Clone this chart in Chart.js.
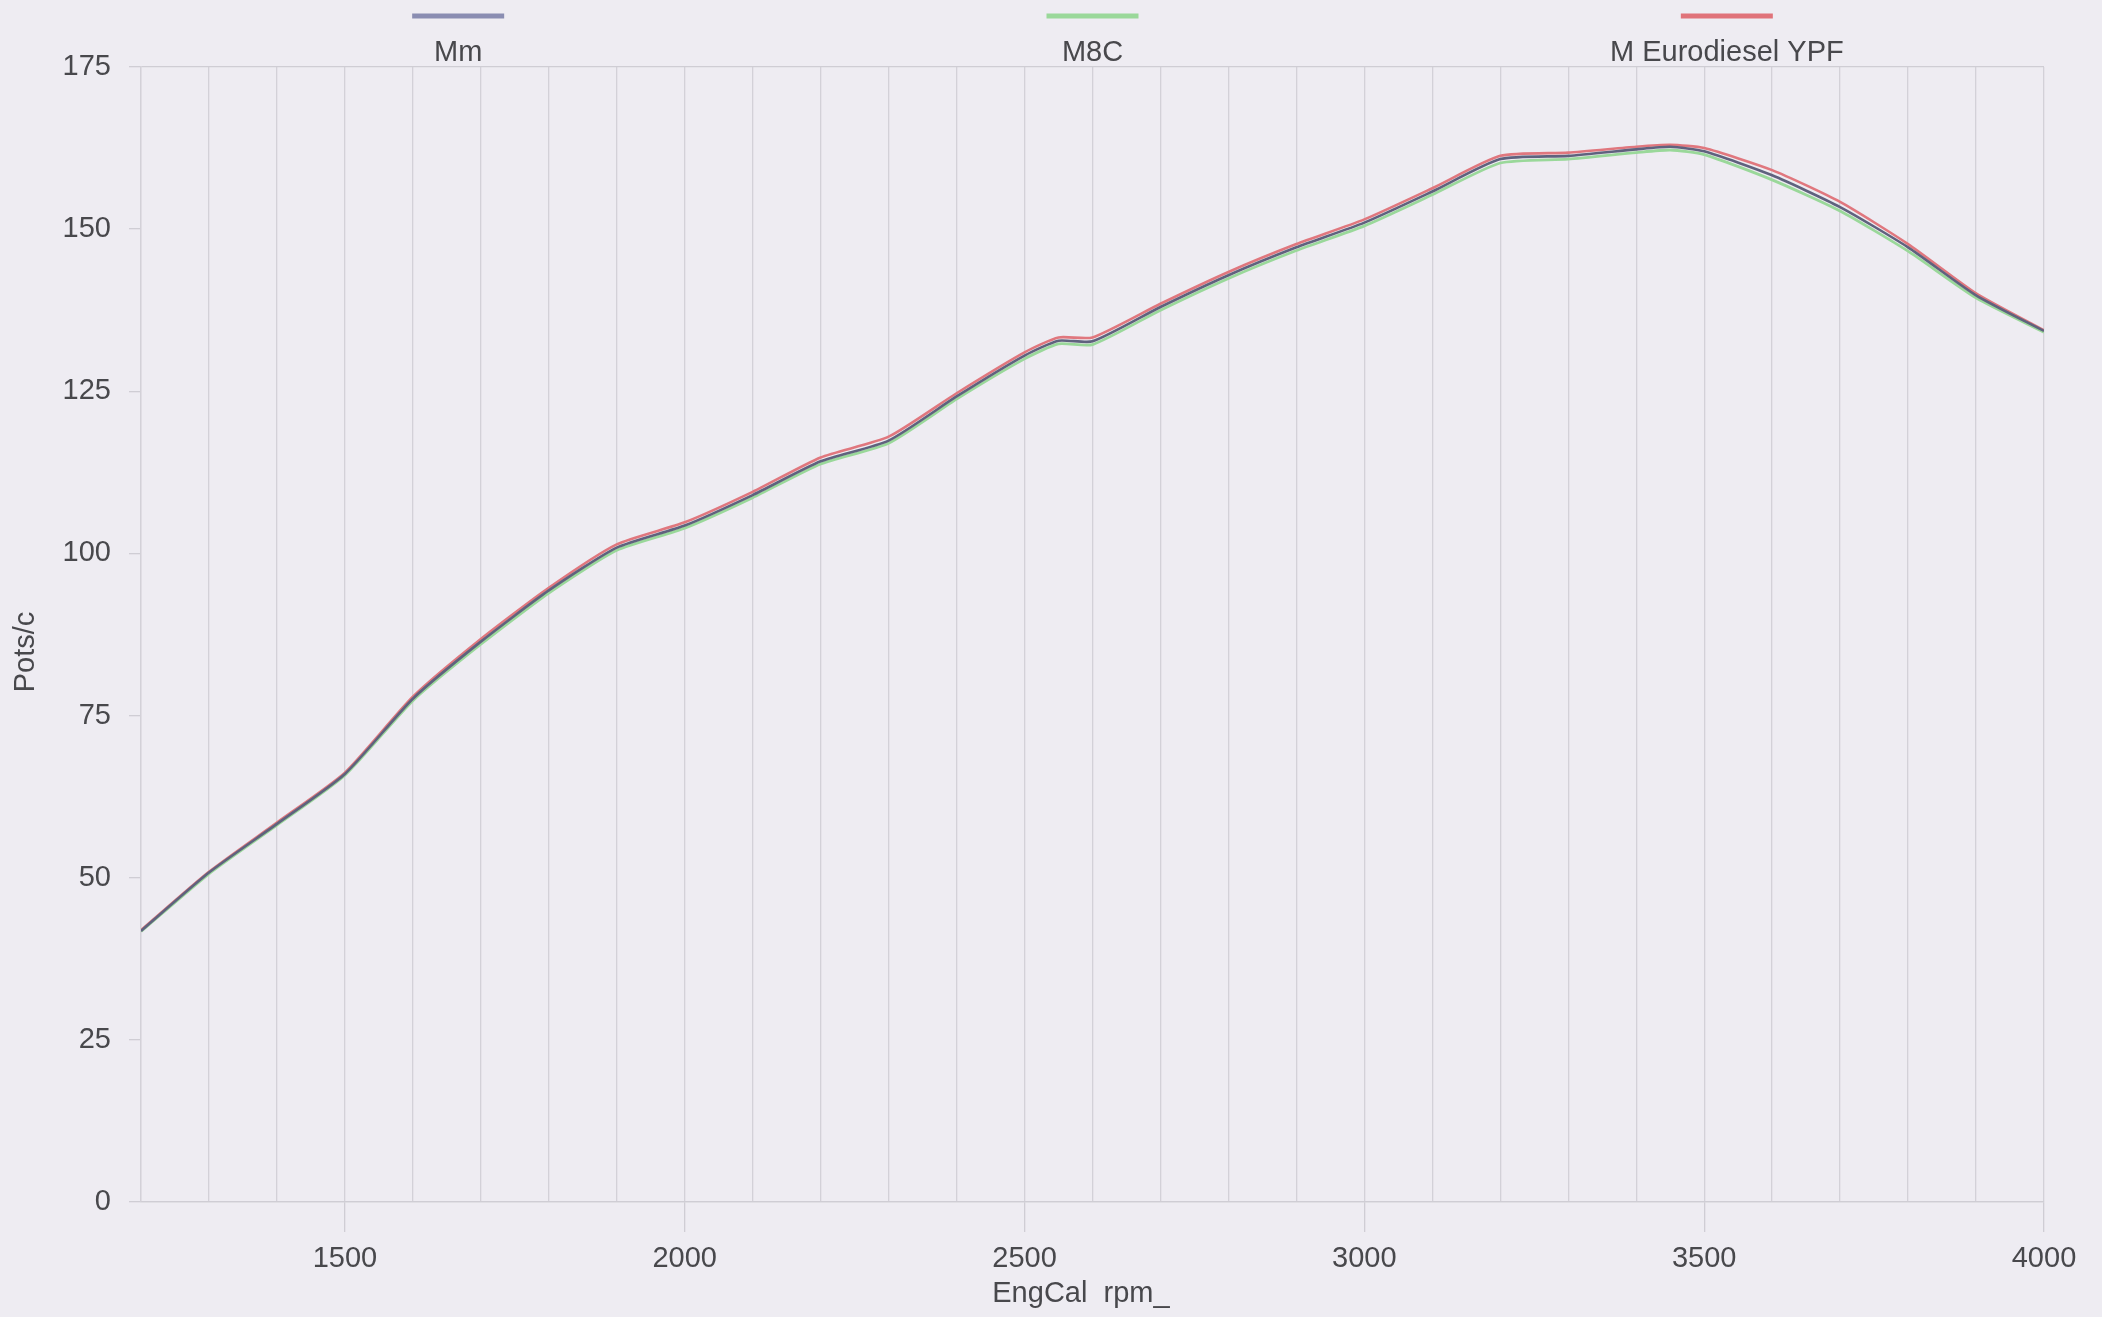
<!DOCTYPE html>
<html>
<head>
<meta charset="utf-8">
<script src="https://cdn.jsdelivr.net/npm/chart.js@4.4.0/dist/chart.umd.min.js"></script>
<style>
html,body{margin:0;padding:0;background:#eeecf2;}
#wrap{width:2102px;height:1317px;position:relative;}
</style>
</head>
<body>
<div id="wrap"><canvas id="dyno"></canvas></div>
<script>
// rpm points
const rpm=[1200,1300,1400,1500,1600,1700,1800,1900,2000,2100,2200,2300,2400,2500,2550,2600,2700,2800,2900,3000,3100,3200,3300,3400,3450,3500,3600,3700,3800,3900,4000];
const mm=[41.8,50.8,58.3,66.0,77.6,86.4,94.3,100.9,104.3,109.0,114.2,117.4,124.2,130.5,132.8,132.7,138.0,142.9,147.2,151.0,155.8,160.8,161.3,162.3,162.7,162.0,158.3,153.4,147.2,139.8,134.3];
const m8c=[41.7,50.6,58.1,65.8,77.3,86.0,93.9,100.5,103.9,108.6,113.8,117.0,123.8,130.0,132.3,132.2,137.5,142.4,146.7,150.5,155.3,160.2,160.8,161.8,162.2,161.5,157.6,152.8,146.6,139.4,134.1];
const ypf=[41.9,50.9,58.5,66.2,77.9,86.8,94.7,101.4,104.8,109.5,114.8,118.0,124.7,131.0,133.3,133.3,138.5,143.4,147.7,151.5,156.3,161.3,161.8,162.7,163.0,162.5,159.1,154.2,147.7,140.1,134.4];
const seriesNames=["Mm","M8C","M Eurodiesel YPF"];
const seriesColors=["#5f627e","#9ad89a","#e0777e"];
const legendColors=["#8a8db2","#9ad89a","#e0737a"];
const xTitle="EngCal rpm_";
const yTitle="Pots/c";
const yTicks=[0,25,50,75,100,125,150,175];

const FONT='"Liberation Sans", Arial, sans-serif';
const TXT="#48484c";

function pts(vals){return rpm.map((r,i)=>({x:r,y:vals[i]}));}

const paper={
id:'paper',
beforeDraw(c){
let ctx=c.ctx;
ctx.save();
ctx.fillStyle="#eeecf2";
ctx.fillRect(0,0,c.width,c.height);
ctx.restore();
}
};

const extras={
id:'extras',
afterDraw(c){
let ctx=c.ctx,a=c.chartArea;
let w=(a.right-a.left)/c.data.datasets.length;
ctx.save();
c.data.datasets.forEach((ds,i)=>{
let cx=a.left+w*(i+0.5);
ctx.strokeStyle=legendColors[i];
ctx.lineWidth=5;
ctx.beginPath();ctx.moveTo(cx-46,16);ctx.lineTo(cx+46,16);ctx.stroke();
ctx.fillStyle=TXT;
ctx.font="29px "+FONT;
ctx.textAlign="center";ctx.textBaseline="middle";
ctx.fillText(ds.label,cx,53);
});
// x title sits under the 2500 label, left aligned to it
ctx.font="29px "+FONT;
let x0=c.scales.x.getPixelForValue(2500)-ctx.measureText("2500").width/2;
ctx.textAlign="left";ctx.textBaseline="middle";
ctx.fillText(xTitle.replace(" ","  "),x0,1294);
// y title
ctx.translate(26,652);
ctx.rotate(-Math.PI/2);
ctx.textAlign="center";
ctx.fillText(yTitle,0,0);
ctx.restore();
}
};

new Chart(document.getElementById("dyno"),{
type:'line',
data:{
datasets:[
{label:seriesNames[0],data:pts(mm),borderColor:seriesColors[0],borderWidth:2.6},
{label:seriesNames[1],data:pts(m8c),borderColor:seriesColors[1],borderWidth:2.8},
{label:seriesNames[2],data:pts(ypf),borderColor:seriesColors[2],borderWidth:2.6}
]
},
options:{
responsive:true,
maintainAspectRatio:false,
animation:false,
devicePixelRatio:1,
elements:{point:{radius:0},line:{tension:0.2}},
layout:{padding:{top:67,right:58,left:0,bottom:0}},
plugins:{legend:{display:false},tooltip:{enabled:false}},
scales:{
x:{
type:'linear',min:1200,max:4000,
afterFit(s){s.height=115;},
ticks:{stepSize:100,autoSkip:false,maxRotation:0,color:TXT,font:{family:FONT,size:29},padding:10,
callback:v=>v%500===0?String(v):''},
grid:{color:"#d3d1d8",lineWidth:1.3,tickLength:30,
tickColor:ctx=>ctx.tick&&ctx.tick.value%500===0?"#cfcdd4":"rgba(0,0,0,0)"},
border:{color:"#cfcdd4",width:1.3}
},
y:{
min:0,max:175,
afterFit(s){s.width=141;},
afterBuildTicks(s){s.ticks=yTicks.map(v=>({value:v}));},
ticks:{color:TXT,font:{family:FONT,size:29},padding:18},
grid:{lineWidth:1.3,tickLength:12,
color:ctx=>ctx.tick&&(ctx.tick.value===175||ctx.tick.value===0)?"#cfcdd4":"rgba(0,0,0,0)",
tickColor:"#cfcdd4"},
border:{color:"#d3d1d8",width:1.3}
}
}
},
plugins:[paper,extras]
});
</script>
</body>
</html>
